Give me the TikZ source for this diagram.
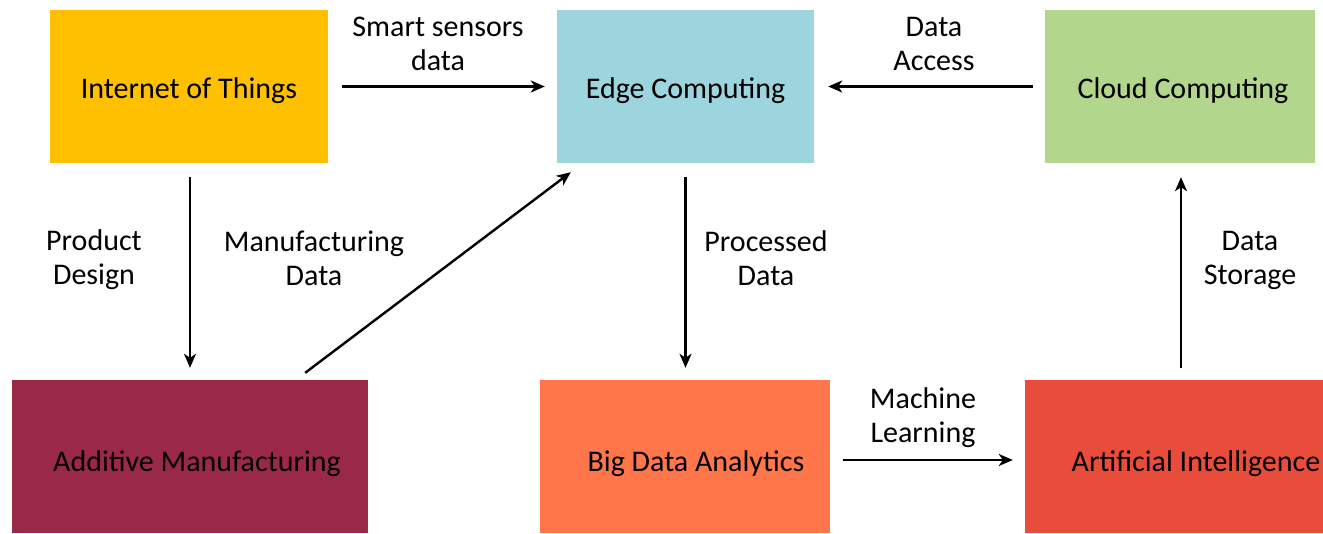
\documentclass[tikz,border=0pt]{standalone}
\usepackage{fontspec}
\setmainfont{Carlito}
\usetikzlibrary{arrows.meta,calc}
\definecolor{ciot}{HTML}{FFC000}
\definecolor{cedge}{HTML}{9DD5DE}
\definecolor{ccloud}{HTML}{B3D68D}
\definecolor{cam}{HTML}{9A2848}
\definecolor{cbd}{HTML}{FE764A}
\definecolor{cai}{HTML}{E84D3C}
\tikzset{
  box/.style={rectangle, inner sep=0pt, minimum height=153pt, font=\fontsize{30}{34}\selectfont, text=black, text height=26pt, text depth=3pt},
  lowbox/.style={box, text height=32pt, text depth=3pt},
  lbl/.style={align=center, inner sep=0pt, font=\fontsize{30}{34}\selectfont, text=black},
  conn/.style={line width=2.4pt, -{Stealth[length=14pt,width=12pt,inset=4pt]}}
}
\begin{document}
\begin{tikzpicture}[x=1pt,y=-1pt]
\fill[white] (0,0) rectangle (1323,533);
\useasboundingbox (0,0) rectangle (1323,533);
\node[box, fill=ciot, minimum width=278pt] (iot) at (189,86.5) {Internet of Things};
\node[box, fill=cedge, minimum width=257pt] (edge) at (685.5,86.5) {Edge Computing};
\node[box, fill=ccloud, minimum width=270pt] (cloud) at (1180,86.5) {\hspace*{6pt}Cloud Computing};
\node[lowbox, fill=cam, minimum width=356pt] (am) at (190,456.5) {\hspace*{14pt}Additive Manufacturing};
\node[lowbox, fill=cbd, minimum width=290pt] (bd) at (685,456.5) {\hspace*{22pt}Big Data Analytics};
\node[lowbox, fill=cai, minimum width=298pt] (ai) at (1174,456.5) {\hspace*{44pt}Artificial Intelligence};
% connectors
\coordinate (iotE) at ($(iot.east)+(14,0)$);
\coordinate (edgeW) at ($(edge.west)+(-12,0)$);
\draw[conn] (iotE) -- (edgeW);
\coordinate (cloudW) at ($(cloud.west)+(-12,0)$);
\coordinate (edgeE) at ($(edge.east)+(14,0)$);
\draw[conn] (cloudW) -- (edgeE);
\coordinate (iotS) at ($(iot.south)+(1,14)$);
\coordinate (amN) at ($(iot.south |- am.north)+(1,-12)$);
\draw[conn] (iotS) -- (amN);
\coordinate (amD) at ($(am.north east)+(-63,-7)$);
\coordinate (edgeD) at ($(edge.south west)+(14,9)$);
\draw[conn] (amD) -- (edgeD);
\coordinate (edgeS) at ($(edge.south)+(0,14)$);
\coordinate (bdN) at ($(edge.south |- bd.north)+(0,-12)$);
\draw[conn] (edgeS) -- (bdN);
\coordinate (bdE) at ($(bd.east)+(13,3.5)$);
\coordinate (aiW) at ($(ai.west)+(-12,3.5)$);
\draw[conn] (bdE) -- (aiW);
\coordinate (aiN) at ($(ai.north -| cloud.south)+(1,-12)$);
\coordinate (cloudS) at ($(cloud.south)+(1,14)$);
\draw[conn] (aiN) -- (cloudS);
% labels
\node[lbl] (l1) at (438,44) {Smart sensors\\data};
\node[lbl] (l2) at (934,44) {Data\\Access};
\node[lbl] (l3) at (94,260) {Product\\Design};
\node[lbl] (l4) at (314,258) {Manufacturing\\Data};
\node[lbl] (l5) at (766,258) {Processed\\Data};
\node[lbl] (l6) at (1250,260) {Data\\Storage};
\node[lbl] (l7) at (923,418) {Machine\\Learning};
\end{tikzpicture}
\end{document}
